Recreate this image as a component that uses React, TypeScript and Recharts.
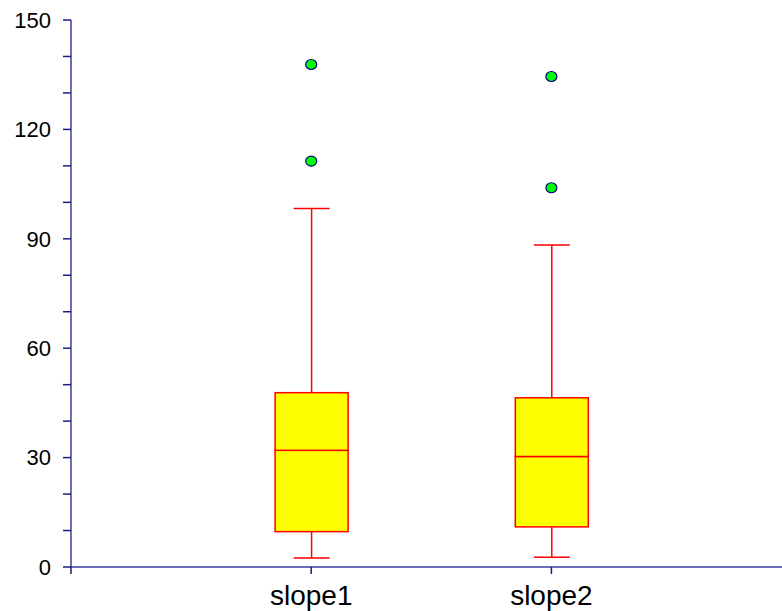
import React from "react";
import { ComposedChart, Bar, Scatter, XAxis, YAxis } from "recharts";

const categories = ["slope1", "slope2"];
const positions = [1, 2];
const mins = [2.5, 2.7];
const q1s = [9.7, 11.0];
const medians = [32.0, 30.3];
const q3s = [47.8, 46.4];
const maxs = [98.3, 88.3];
const outlierValues = [
  [137.8, 111.3],
  [134.5, 104.0],
];
const yTicks = [0, 10, 20, 30, 40, 50, 60, 70, 80, 90, 100, 110, 120, 130, 140, 150];
const xTicks = [0, 1, 2];

const boxData = categories.map((name, i) => ({
  x: positions[i],
  name,
  s0: mins[i],
  s1: q1s[i] - mins[i],
  s2: medians[i] - q1s[i],
  s3: q3s[i] - medians[i],
  s4: maxs[i] - q3s[i],
}));

const outlierData = categories.flatMap((name, i) =>
  outlierValues[i].map((v) => ({ x: positions[i], y: v, name }))
);

const RED = "#ff0000";
const CAP = 36;

const MinCap = (p: any) => {
  const cx = p.x + p.width / 2;
  return <line x1={cx - CAP / 2} x2={cx + CAP / 2} y1={p.y} y2={p.y} stroke={RED} strokeWidth={1.5} />;
};
const Whisker = (p: any) => {
  const cx = p.x + p.width / 2;
  return <line x1={cx} x2={cx} y1={p.y} y2={p.y + p.height} stroke={RED} strokeWidth={1.5} />;
};
const Box = (p: any) => (
  <rect x={p.x} y={p.y} width={p.width} height={p.height} fill="#ffff00" stroke={RED} strokeWidth={1.5} />
);
const TopWhisker = (p: any) => {
  const cx = p.x + p.width / 2;
  return (
    <g>
      <line x1={cx} x2={cx} y1={p.y} y2={p.y + p.height} stroke={RED} strokeWidth={1.5} />
      <line x1={cx - CAP / 2} x2={cx + CAP / 2} y1={p.y} y2={p.y} stroke={RED} strokeWidth={1.5} />
    </g>
  );
};
const Dot = (p: any) => (
  <ellipse cx={p.cx} cy={p.cy} rx={5.5} ry={5} fill="#00ff00" stroke="#000080" strokeWidth={1.2} />
);

export default function App() {
  return (
    <div style={{ position: "absolute", left: 0, top: 0, background: "#fff" }}>
      <ComposedChart
        width={782}
        height={611}
        data={boxData}
        margin={{ top: 20, right: 0, bottom: 0, left: 0 }}
      >
        <XAxis
          dataKey="x"
          type="number"
          domain={[0, 2.96]}
          ticks={xTicks}
          allowDataOverflow
          tickFormatter={(v: number) => {
            const i = positions.indexOf(v);
            return i >= 0 ? categories[i] : "";
          }}
          height={44}
          axisLine={{ stroke: "#3c3ca0", strokeWidth: 1.5 }}
          tickLine={{ stroke: "#1c1c80", strokeWidth: 1.5 }}
          tickSize={7}
          tickMargin={11}
          tick={{ fill: "#000", fontSize: 28, fontFamily: "Liberation Sans, Arial, sans-serif" }}
        />
        <YAxis
          type="number"
          domain={[0, 150]}
          ticks={yTicks}
          interval={0}
          width={71}
          tickFormatter={(v: number) => (v % 30 === 0 ? String(v) : "")}
          axisLine={{ stroke: "#3c3ca0", strokeWidth: 1.5 }}
          tickLine={{ stroke: "#1c1c80", strokeWidth: 1.5 }}
          tickSize={8}
          tickMargin={12}
          tick={{ fill: "#000", fontSize: 22, fontFamily: "Liberation Sans, Arial, sans-serif" }}
        />
        <Bar dataKey="s0" stackId="b" barSize={73} shape={<MinCap />} isAnimationActive={false} />
        <Bar dataKey="s1" stackId="b" barSize={73} shape={<Whisker />} isAnimationActive={false} />
        <Bar dataKey="s2" stackId="b" barSize={73} shape={<Box />} isAnimationActive={false} />
        <Bar dataKey="s3" stackId="b" barSize={73} shape={<Box />} isAnimationActive={false} />
        <Bar dataKey="s4" stackId="b" barSize={73} shape={<TopWhisker />} isAnimationActive={false} />
        <Scatter data={outlierData} dataKey="y" shape={<Dot />} isAnimationActive={false} />
      </ComposedChart>
    </div>
  );
}
